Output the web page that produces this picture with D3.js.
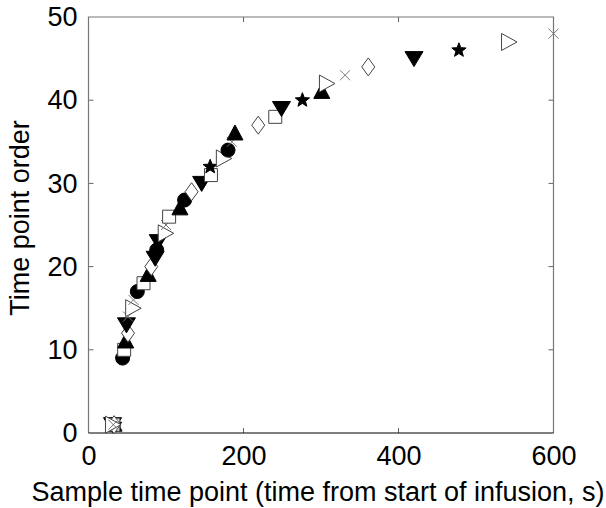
<!DOCTYPE html>
<html><head><meta charset="utf-8">
<script src="https://cdn.jsdelivr.net/npm/d3@7/dist/d3.min.js"></script>
<style>body{margin:0;background:#fff}svg{display:block}text{font-family:"Liberation Sans",Arial,sans-serif}</style>
</head><body><svg id="c" width="606" height="508"></svg>
<script>
// Sample time point (s), time point order, marker per point
const times  = [32,33,31,34,32,33,31,32,
  44,46,48,51,49,51,57,58,63,71,77,81,86,88,90,99,100,104,118,124,133,146,158,157,174,180,185,189,219,241,249,276,301,307,331,361,420,478,542,600];
const orders = [1,1,1,1,1,1,1,1,
  9,10,11,12,13,14,15,16,17,18,19,20,21,22,23,24,25,26,27,28,29,30,31,32,33,34,35,36,37,38,39,40,41,42,43,44,45,46,47,48];
const markers = ["circle","triUp","triDown","star","square","diamond","triRight","cross",
  "circle","square","triUp","diamond","triDown","cross","triRight","cross","circle","square","triUp","diamond","triDown","circle","triDown","triRight","cross","square","triUp","circle","diamond","triDown","square","star","triRight","circle","cross","triUp","diamond","square","triDown","star","triUp","triRight","cross","diamond","triDown","star","triRight","cross"];
const xTicks = [0,200,400,600];
const yTicks = [0,10,20,30,40,50];

const svg = d3.select("#c");
const L=88.5, R=553.5, T=17, B=433;
const x = d3.scaleLinear().domain([0,600]).range([L,R]);
const y = d3.scaleLinear().domain([0,50]).range([B,T]);
const fs = 27;

function shape(type){
  switch(type){
    case "circle": return "M7,0A7,7 0 1,1 -7,0A7,7 0 1,1 7,0Z";
    case "square": return "M-6.5,-6.5H6.5V6.5H-6.5Z";
    case "triUp": return "M0,-8.5L8,6.5L-8,6.5Z";
    case "triDown": return "M0,8L9,-7L-9,-7Z";
    case "triRight": return "M8.5,0L-7,-8.5L-7,8.5Z";
    case "diamond": return "M0,-9L6.5,0L0,9L-6.5,0Z";
    case "cross": return "M-5,-5L5,5M-5,5L5,-5";
    case "star": {
      let p=[];for(let i=0;i<10;i++){const r=i%2?3.2:7.5,a=-Math.PI/2+i*Math.PI/5;p.push([r*Math.cos(a),r*Math.sin(a)]);}
      return "M"+p.map(d=>d[0].toFixed(2)+","+d[1].toFixed(2)).join("L")+"Z";
    }
  }
}
const filled = new Set(["circle","triUp","triDown","star"]);

// axes
const gx = svg.append("g").attr("transform",`translate(0,${B})`)
  .call(d3.axisBottom(x).tickValues(xTicks).tickSize(0).tickPadding(13));
gx.select(".domain").remove();
gx.selectAll("text").attr("font-size",fs).attr("fill","#000").attr("font-family","Liberation Sans, Arial, sans-serif");
const gy = svg.append("g").attr("transform",`translate(${L},0)`)
  .call(d3.axisLeft(y).tickValues(yTicks).tickSize(0).tickPadding(11));
gy.select(".domain").remove();
gy.selectAll("text").attr("font-size",fs).attr("fill","#000").attr("font-family","Liberation Sans, Arial, sans-serif");

// inward ticks
const tk = svg.append("g").attr("stroke","#666").attr("stroke-width",1);
xTicks.slice(1,-1).forEach(v=>{
  tk.append("line").attr("x1",x(v)).attr("x2",x(v)).attr("y1",B).attr("y2",B-5);
  tk.append("line").attr("x1",x(v)).attr("x2",x(v)).attr("y1",T).attr("y2",T+5);
});
yTicks.slice(1,-1).forEach(v=>{
  tk.append("line").attr("x1",L).attr("x2",L+5).attr("y1",y(v)).attr("y2",y(v));
  tk.append("line").attr("x1",R).attr("x2",R-5).attr("y1",y(v)).attr("y2",y(v));
});

// frame
svg.append("path").attr("d",`M${L},${B}V${T}H${R}V${B}`).attr("fill","none").attr("stroke","#777").attr("stroke-width",1.2);
svg.append("line").attr("x1",L).attr("x2",R).attr("y1",B).attr("y2",B).attr("stroke","#000").attr("stroke-width",1.2);

// points
const pts = times.map((t,i)=>({t,o:orders[i],m:markers[i]}));
svg.append("g").selectAll("path").data(pts).join("path")
  .attr("transform",d=>`translate(${x(d.t)},${y(d.o)})`)
  .attr("d",d=>shape(d.m))
  .attr("fill",d=>filled.has(d.m)?"#000":(d.m==="cross"?"none":"#fff"))
  .attr("stroke",d=>filled.has(d.m)?"#000":(d.m==="cross"?"#777":"#444"))
  .attr("stroke-width",1);

// labels
svg.append("text").attr("x",318).attr("y",501).attr("text-anchor","middle").attr("font-size",fs)
  .text("Sample time point (time from start of infusion, s)");
svg.append("text").attr("transform",`translate(29,218) rotate(-90)`).attr("text-anchor","middle").attr("font-size",fs)
  .text("Time point order");
</script></body></html>
